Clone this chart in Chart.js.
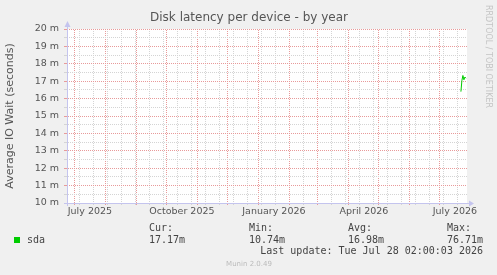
<!DOCTYPE html>
<html>
<head>
<meta charset="utf-8">
<title>Disk latency per device - by year</title>
<script src="https://cdn.jsdelivr.net/npm/chart.js@4.4.1/dist/chart.umd.min.js"></script>
<style>
  html, body { margin: 0; padding: 0; background: #f0f0f0; }
  canvas { display: block; }
</style>
</head>
<body>
<canvas id="latencyGraph" width="497" height="275"></canvas>
<script>
// Values (seconds)
const sampleDays = ['2026-07-22', '2026-07-23', '2026-07-24', '2026-07-25', '2026-07-26', '2026-07-27'];
const sdaWait = [0.01640, 0.01705, 0.01733, 0.01708, 0.01724, 0.01717];

// Axis settings
const rangeEnd = '2026-07-28T02:00:03Z';
const rangeDays = 400;
const yMinMs = 10;
const yMaxMs = 20;
const monthStarts = ['2025-07-01', '2025-08-01', '2025-09-01', '2025-10-01', '2025-11-01', '2025-12-01',
    '2026-01-01', '2026-02-01', '2026-03-01', '2026-04-01', '2026-05-01', '2026-06-01', '2026-07-01'];
const firstMinorDay = '2025-07-06';
const monthLabels = ['July 2025', 'October 2025', 'January 2026', 'April 2026', 'July 2026'];
const monthLabelDays = ['2025-07-16', '2025-10-16', '2026-01-16', '2026-04-16', '2026-07-16'];

// Legend
const seriesName = 'sda';
const statNames = ['Cur:', 'Min:', 'Avg:', 'Max:'];
const statValues = ['17.17m', '10.74m', '16.98m', '76.71m'];
const lastUpdate = 'Last update: Tue Jul 28 02:00:03 2026';

const DAY = 24 * 3600 * 1000;
const toTime = d => new Date(d.length > 10 ? d : d + 'T00:00:00Z').getTime();
const endTime = toTime(rangeEnd);
const startTime = endTime - rangeDays * DAY;

const axisColor = '#c4c4ee';
const majorInk = '#e89a9a';
const minorInk = '#d4d4d4';
const sans = "'DejaVu Sans', sans-serif";
const mono = "'DejaVu Sans Mono', monospace";

// rrdtool style dotted lines: one pixel on, one pixel off
function dotPattern(color) {
    const c = document.createElement('canvas');
    c.width = 2;
    c.height = 2;
    const g = c.getContext('2d');
    g.fillStyle = color;
    g.fillRect(0, 0, 1, 1);
    g.fillRect(1, 1, 1, 1);
    return g.createPattern(c, 'repeat');
}
const majorDots = dotPattern(majorInk);
const minorDots = dotPattern(minorInk);

function buildXTicks(scale) {
    const majors = monthStarts.map(toTime).filter(t => t >= startTime && t <= endTime);
    const ticks = [];
    for (let t = toTime(firstMinorDay); t <= endTime; t += 14 * DAY) {
        if (majors.indexOf(t) === -1) ticks.push({ value: t, major: false });
    }
    majors.forEach(t => ticks.push({ value: t, major: true }));
    scale.ticks = ticks;
}

function buildYTicks(scale) {
    const ticks = [];
    for (let h = yMinMs * 2; h <= yMaxMs * 2; h++) {
        ticks.push({ value: h / 2000, major: h % 2 === 0 });
    }
    scale.ticks = ticks;
}

const gridColor = ctx => (ctx.tick && ctx.tick.major) ? majorDots : minorDots;
const tickMarkColor = ctx => (ctx.tick && ctx.tick.major) ? majorInk : minorInk;

// Background, axes, labels and legend in the rrdtool style
const muninDecor = {
    id: 'muninDecor',
    beforeDraw(chart) {
        const { ctx, chartArea: a } = chart;
        ctx.save();
        ctx.fillStyle = '#f0f0f0';
        ctx.fillRect(0, 0, chart.width, chart.height);
        ctx.fillStyle = '#ffffff';
        ctx.fillRect(a.left, a.top, a.right - a.left, a.bottom - a.top);
        ctx.restore();
    },
    afterDraw(chart) {
        const { ctx, chartArea: a } = chart;
        const xs = chart.scales.x;
        ctx.save();

        // axes with arrows
        ctx.strokeStyle = axisColor;
        ctx.fillStyle = axisColor;
        ctx.lineWidth = 1;
        ctx.beginPath();
        ctx.moveTo(a.left - 3, a.bottom + 0.5);
        ctx.lineTo(a.right + 3, a.bottom + 0.5);
        ctx.moveTo(a.left + 0.5, a.bottom + 3);
        ctx.lineTo(a.left + 0.5, a.top - 4);
        ctx.stroke();
        ctx.beginPath();
        ctx.moveTo(a.right + 7, a.bottom + 0.5);
        ctx.lineTo(a.right + 2, a.bottom - 2.5);
        ctx.lineTo(a.right + 2, a.bottom + 3.5);
        ctx.fill();
        ctx.beginPath();
        ctx.moveTo(a.left + 0.5, a.top - 8);
        ctx.lineTo(a.left - 2.5, a.top - 2);
        ctx.lineTo(a.left + 3.5, a.top - 2);
        ctx.fill();

        // title
        ctx.fillStyle = '#555555';
        ctx.font = '12px ' + sans;
        ctx.textAlign = 'center';
        ctx.textBaseline = 'middle';
        ctx.fillText('Disk latency per device - by year', 249, 18);

        // x labels, centred in their month
        ctx.font = '9.5px ' + sans;
        monthLabels.forEach((label, i) => {
            ctx.fillText(label, xs.getPixelForValue(toTime(monthLabelDays[i])), a.bottom + 9);
        });

        // watermark
        ctx.save();
        ctx.translate(488, 5);
        ctx.rotate(Math.PI / 2);
        ctx.fillStyle = '#c4c4c4';
        ctx.font = '8px ' + sans;
        ctx.textAlign = 'left';
        ctx.fillText('RRDTOOL / TOBI OETIKER', 0, 0);
        ctx.restore();

        // legend
        ctx.fillStyle = chart.data.datasets[0].borderColor;
        ctx.fillRect(14, 237, 6, 6);
        ctx.fillStyle = '#444444';
        ctx.font = '10px ' + mono;
        ctx.textAlign = 'left';
        ctx.fillText(seriesName, 27, 240);
        const statX = [149, 249, 348, 447];
        statNames.forEach((name, i) => {
            ctx.fillText(name, statX[i], 228);
            ctx.fillText(statValues[i], statX[i], 240);
        });
        ctx.textAlign = 'right';
        ctx.fillText(lastUpdate, 483, 251);

        ctx.fillStyle = '#bbbbbb';
        ctx.font = '7px ' + sans;
        ctx.textAlign = 'center';
        ctx.fillText('Munin 2.0.49', 249, 264);
        ctx.restore();
    }
};

function renderLatencyGraph() {
    const ctx = document.getElementById('latencyGraph').getContext('2d');
    new Chart(ctx, {
        type: 'line',
        data: {
            datasets: [{
                label: seriesName,
                data: sampleDays.map((d, i) => ({ x: toTime(d), y: sdaWait[i] })),
                borderColor: '#00cc00',
                borderWidth: 1,
                pointRadius: 0,
                tension: 0,
                fill: false
            }]
        },
        options: {
            responsive: false,
            animation: false,
            layout: { padding: { top: 29, right: 30, bottom: 52, left: 0 } },
            plugins: {
                legend: { display: false },
                title: { display: false },
                tooltip: { enabled: false }
            },
            scales: {
                x: {
                    type: 'linear',
                    min: startTime,
                    max: endTime,
                    afterBuildTicks: buildXTicks,
                    afterFit: s => { s.height = 20; },
                    ticks: { display: false, autoSkip: false },
                    grid: { color: gridColor, tickColor: tickMarkColor, tickLength: 2 },
                    border: { display: false }
                },
                y: {
                    min: yMinMs / 1000,
                    max: yMaxMs / 1000,
                    afterBuildTicks: buildYTicks,
                    afterFit: s => { s.width = 67; },
                    ticks: {
                        autoSkip: false,
                        padding: 5,
                        color: '#555555',
                        font: { family: sans, size: 9.5 },
                        callback: (value, index, ticks) =>
                            ticks[index].major ? Math.round(value * 1000) + ' m' : ''
                    },
                    grid: { color: gridColor, tickColor: tickMarkColor, tickLength: 3 },
                    border: { display: false },
                    title: {
                        display: true,
                        text: 'Average IO Wait (seconds)',
                        color: '#555555',
                        font: { family: sans, size: 11 },
                        padding: { top: 4, bottom: 0 }
                    }
                }
            }
        },
        plugins: [muninDecor]
    });
}

document.addEventListener('DOMContentLoaded', renderLatencyGraph);
</script>
</body>
</html>
